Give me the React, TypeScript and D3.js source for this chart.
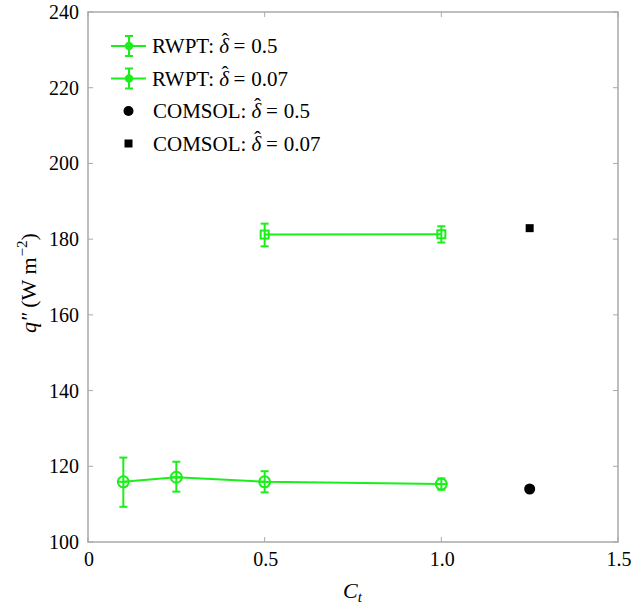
import React from "react";
import * as d3 from "d3";

const xTicks = [0, 0.5, 1.0, 1.5];
const yTicks = [100, 120, 140, 160, 180, 200, 220, 240];

const rwpt05X = [0.1, 0.25, 0.5, 1.0];
const rwpt05Y = [115.9, 117.1, 115.9, 115.3];
const rwpt05Lo = [109.3, 113.3, 113.1, 113.8];
const rwpt05Hi = [122.3, 121.2, 118.7, 116.8];

const rwpt007X = [0.5, 1.0];
const rwpt007Y = [181.2, 181.3];
const rwpt007Lo = [178.1, 179.1];
const rwpt007Hi = [184.1, 183.4];

const comsol05 = { x: 1.25, y: 114.0 };
const comsol007 = { x: 1.25, y: 182.9 };

const legendLabels = ["RWPT: ", "RWPT: ", "COMSOL: ", "COMSOL: "];
const legendValues = ["0.5", "0.07", "0.5", "0.07"];
const legendKinds = ["rwpt", "rwpt", "circle", "square"];

const GREEN = "#1aef1a";
const AXIS = "#a9a9a9";
const FONT = "Liberation Serif";

export default function App() {
  const W = 633, H = 606;
  const left = 88, right = 618, top = 12, bottom = 542;
  const x = d3.scaleLinear().domain([0, 1.5]).range([left, right]);
  const y = d3.scaleLinear().domain([100, 240]).range([bottom, top]);

  const path05 = d3.line<number>()
    .x((d, i) => x(rwpt05X[i]))
    .y((d) => y(d))(rwpt05Y) || "";
  const path007 = d3.line<number>()
    .x((d, i) => x(rwpt007X[i]))
    .y((d) => y(d))(rwpt007Y) || "";

  const errBar = (cx: number, lo: number, hi: number, key: string) => (
    <g key={key} stroke={GREEN} strokeWidth={2}>
      <line x1={cx} x2={cx} y1={y(lo)} y2={y(hi)} />
      <line x1={cx - 4} x2={cx + 4} y1={y(lo)} y2={y(lo)} />
      <line x1={cx - 4} x2={cx + 4} y1={y(hi)} y2={y(hi)} />
    </g>
  );

  return (
    <svg width={W} height={H} fontFamily={FONT} style={{ position: "absolute", left: 0, top: 0 }}>
      <rect width={W} height={H} fill="white" />
      <rect x={left} y={top} width={right - left} height={bottom - top} fill="none" stroke={AXIS} strokeWidth={1.5} />
      {yTicks.map((t) => (
        <g key={"y" + t}>
          <line x1={left} x2={left + 5} y1={y(t)} y2={y(t)} stroke={AXIS} />
          <line x1={right} x2={right - 5} y1={y(t)} y2={y(t)} stroke={AXIS} />
          <text x={left - 9} y={y(t)} dy="0.35em" textAnchor="end" fontFamily={FONT} fontSize={20}>{t}</text>
        </g>
      ))}
      {xTicks.map((t) => (
        <g key={"x" + t}>
          <line x1={x(t)} x2={x(t)} y1={bottom} y2={bottom - 5} stroke={AXIS} />
          <line x1={x(t)} x2={x(t)} y1={top} y2={top + 5} stroke={AXIS} />
          <text x={x(t) + 1} y={bottom + 24} textAnchor="middle" fontFamily={FONT} fontSize={20}>{t === 0 ? "0" : t.toFixed(1)}</text>
        </g>
      ))}
      <text x={343} y={598} fontFamily={FONT} fontSize={22} fontStyle="italic">
        C<tspan fontSize={15} dy={4}>t</tspan>
      </text>
      <text transform={`translate(36, 283) rotate(-90)`} textAnchor="middle" fontFamily={FONT} fontSize={22}>
        <tspan fontStyle="italic">q″</tspan><tspan dx={5}>(W m</tspan><tspan fontSize={15} dx={1} dy={-9}>−2</tspan><tspan dy={9}>)</tspan>
      </text>
      <path d={path05} fill="none" stroke={GREEN} strokeWidth={2} />
      <path d={path007} fill="none" stroke={GREEN} strokeWidth={2} />
      {rwpt05X.map((v, i) => errBar(x(v), rwpt05Lo[i], rwpt05Hi[i], "e05" + i))}
      {rwpt007X.map((v, i) => errBar(x(v), rwpt007Lo[i], rwpt007Hi[i], "e007" + i))}
      {rwpt05X.map((v, i) => (
        <g key={"c" + i} stroke={GREEN} strokeWidth={2} fill="none">
          <circle cx={x(v)} cy={y(rwpt05Y[i])} r={5.5} />
          <line x1={x(v) - 5.5} x2={x(v) + 5.5} y1={y(rwpt05Y[i])} y2={y(rwpt05Y[i])} />
        </g>
      ))}
      {rwpt007X.map((v, i) => (
        <g key={"s" + i} stroke={GREEN} strokeWidth={2} fill="none">
          <rect x={x(v) - 4} y={y(rwpt007Y[i]) - 4} width={8} height={8} />
        </g>
      ))}
      <circle cx={x(comsol05.x)} cy={y(comsol05.y)} r={5.5} fill="black" />
      <rect x={x(comsol007.x) - 4} y={y(comsol007.y) - 4} width={8} height={8} fill="black" />
      {legendLabels.map((lab, i) => {
        const ly = 46 + i * 32.5;
        const kind = legendKinds[i];
        return (
          <g key={"lg" + i}>
            {kind === "rwpt" && (
              <g stroke={GREEN} strokeWidth={2}>
                <line x1={111} x2={146} y1={ly} y2={ly} />
                <line x1={129} x2={129} y1={ly - 10} y2={ly + 10} />
                <line x1={125} x2={133} y1={ly - 10} y2={ly - 10} />
                <line x1={125} x2={133} y1={ly + 10} y2={ly + 10} />
                <circle cx={129} cy={ly} r={3.2} fill={GREEN} />
              </g>
            )}
            {kind === "circle" && <circle cx={128.5} cy={ly} r={5} fill="black" />}
            {kind === "square" && <rect x={124.5} y={ly - 4} width={8} height={8} fill="black" />}
            <text x={kind === "rwpt" ? 152 : 153} y={ly} dy="0.35em" fontFamily={FONT} fontSize={21}>
              {lab}
              <tspan fontStyle="italic">δ</tspan>
              <tspan dx={-7.5} dy={-5}>ˆ</tspan>
              <tspan dx={5} dy={5}>=</tspan>
              <tspan dx={6}>{legendValues[i]}</tspan>
            </text>
          </g>
        );
      })}
    </svg>
  );
}
